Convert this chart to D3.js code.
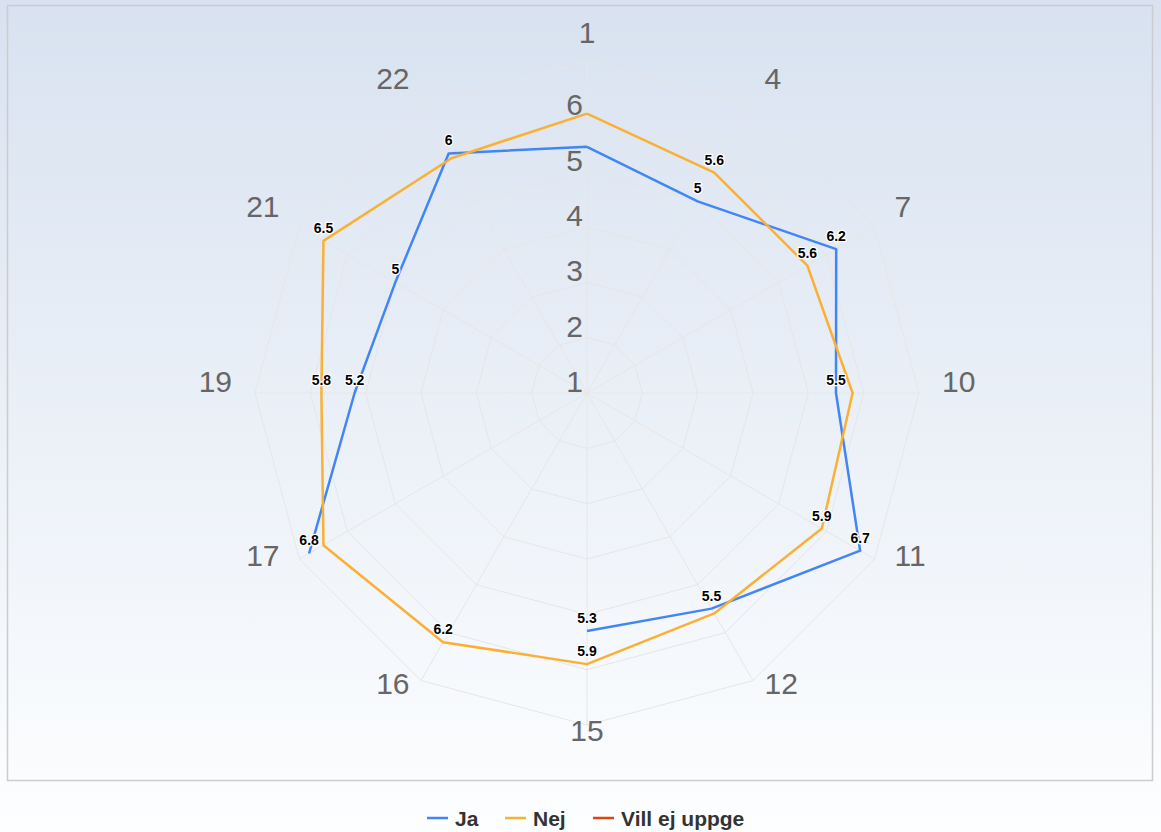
<!DOCTYPE html>
<html>
<head>
<meta charset="utf-8">
<script src="https://cdn.jsdelivr.net/npm/d3@7"></script>
<style>
  html, body { margin: 0; padding: 0; }
  body { width: 1161px; height: 832px; overflow: hidden; font-family: "Liberation Sans", Arial, sans-serif; }
</style>
</head>
<body>
<div id="chart"></div>
<script>
// data
var categories = ["1", "4", "7", "10", "11", "12", "15", "16", "17", "19", "21", "22"];
var jaValues   = [5.45, 5, 6.2, 5.5, 6.7, 5.5, 5.3, null, 6.8, 5.2, 5, 6];
var nejValues  = [6.05, 5.6, 5.6, 5.8, 5.9, 5.6, 5.9, 6.2, 6.5, 5.8, 6.5, 5.9];
var villValues = [];
var seriesNames = ["Ja", "Nej", "Vill ej uppge"];
var scaleTicks = [1, 2, 3, 4, 5, 6];

var width = 1161, height = 832,
    cx = 587, cy = 393, radius = 332;

var colors = ["#4285f4", "#fbb034", "#dd4411"];

var svg = d3.select("#chart").append("svg")
    .attr("width", width)
    .attr("height", height);

var grad = svg.append("defs").append("linearGradient")
    .attr("id", "bg").attr("x1", 0).attr("y1", 0).attr("x2", 0).attr("y2", 1);
grad.append("stop").attr("offset", "0%").attr("stop-color", "#d8e2f0");
grad.append("stop").attr("offset", "100%").attr("stop-color", "#fdfeff");

svg.append("rect").attr("width", width).attr("height", height).attr("fill", "url(#bg)");
svg.append("rect")
    .attr("x", 7.5).attr("y", 5.5)
    .attr("width", 1145).attr("height", 775)
    .attr("fill", "none").attr("stroke", "#cccccc").attr("stroke-width", 1.5);

var r = d3.scaleLinear().domain([1, 7]).range([0, radius]);
var angle = d3.scalePoint().domain(categories).range([0, 2 * Math.PI * (categories.length - 1) / categories.length]);

var g = svg.append("g").attr("transform", "translate(" + cx + "," + cy + ")");

function pt(cat, v) {
    var a = angle(cat), rr = r(v);
    return [rr * Math.sin(a), -rr * Math.cos(a)];
}

// grid rings
var ringLine = d3.lineRadial().curve(d3.curveLinearClosed)
    .angle(function(d) { return angle(d[0]); })
    .radius(function(d) { return r(d[1]); });

[2, 3, 4, 5, 6, 7].forEach(function(t) {
    g.append("path")
        .attr("d", ringLine(categories.map(function(c) { return [c, t]; })))
        .attr("fill", "none")
        .attr("stroke", "#e6e6e6")
        .attr("stroke-width", 1);
});

categories.forEach(function(c) {
    var p = pt(c, 7);
    g.append("line")
        .attr("x1", 0).attr("y1", 0)
        .attr("x2", p[0]).attr("y2", p[1])
        .attr("stroke", "#e6e6e6").attr("stroke-width", 1);
});

// axis labels
categories.forEach(function(c) {
    var a = angle(c);
    var x = (radius + 23) * Math.sin(a), y = -(radius + 17) * Math.cos(a);
    var s = Math.sin(a);
    var anchor = Math.abs(s) < 0.1 ? "middle" : (s > 0 ? "start" : "end");
    g.append("text")
        .attr("x", x).attr("y", y - 12)
        .attr("dy", "0.35em")
        .attr("text-anchor", anchor)
        .attr("fill", "#666666")
        .style("font-size", "30px")
        .text(c);
});

// scale labels
var obstacles = [];
scaleTicks.forEach(function(t) {
    var tx = g.append("text")
        .attr("x", -4).attr("y", -r(t) - 1)
        .attr("text-anchor", "end")
        .attr("fill", "#666666")
        .style("font-size", "30px")
        .text(t);
    obstacles.push(tx.node().getBBox());
});

// series lines
var line = d3.lineRadial()
    .defined(function(d) { return d.v != null; })
    .angle(function(d) { return angle(d.c); })
    .radius(function(d) { return r(d.v); });

var allSeries = [jaValues, nejValues, villValues];
allSeries.forEach(function(vals, i) {
    if (!vals.length) return;
    var pts = categories.map(function(c, j) { return { c: c, v: vals[j] }; });
    pts.push(pts[0]);
    g.append("path")
        .attr("d", line(pts))
        .attr("fill", "none")
        .attr("stroke", colors[i])
        .attr("stroke-width", 2.5)
        .attr("stroke-linejoin", "round");
});

// data labels, hidden when they collide
function hit(a, b) {
    var pad = 2;
    return a.x - pad < b.x + b.width && a.x + a.width + pad > b.x &&
           a.y - pad < b.y + b.height && a.y + a.height + pad > b.y;
}
var placed = obstacles.slice();
allSeries.forEach(function(vals) {
    vals.forEach(function(v, j) {
        if (v == null || j === 0) return; // first point doubles as the closing point
        var p = pt(categories[j], v);
        var lab = g.append("text")
            .attr("x", p[0]).attr("y", p[1] - 8)
            .attr("text-anchor", "middle")
            .attr("fill", "#000")
            .attr("stroke", "#fff").attr("stroke-width", 2.5)
            .attr("stroke-linejoin", "round")
            .style("paint-order", "stroke")
            .style("font-size", "14px").style("font-weight", "bold")
            .text(d3.format("~g")(v));
        var bb = lab.node().getBBox();
        if (placed.some(function(o) { return hit(bb, o); })) lab.remove();
        else placed.push(bb);
    });
});

// legend
var legendX = [427, 505, 593];
var legend = svg.append("g");
seriesNames.forEach(function(n, i) {
    legend.append("line")
        .attr("x1", legendX[i]).attr("x2", legendX[i] + 21)
        .attr("y1", 818).attr("y2", 818)
        .attr("stroke", colors[i]).attr("stroke-width", 2.5);
    legend.append("text")
        .attr("x", legendX[i] + 28).attr("y", 826)
        .attr("fill", "#333333")
        .style("font-size", "21px").style("font-weight", "bold")
        .text(n);
});
</script>
</body>
</html>
